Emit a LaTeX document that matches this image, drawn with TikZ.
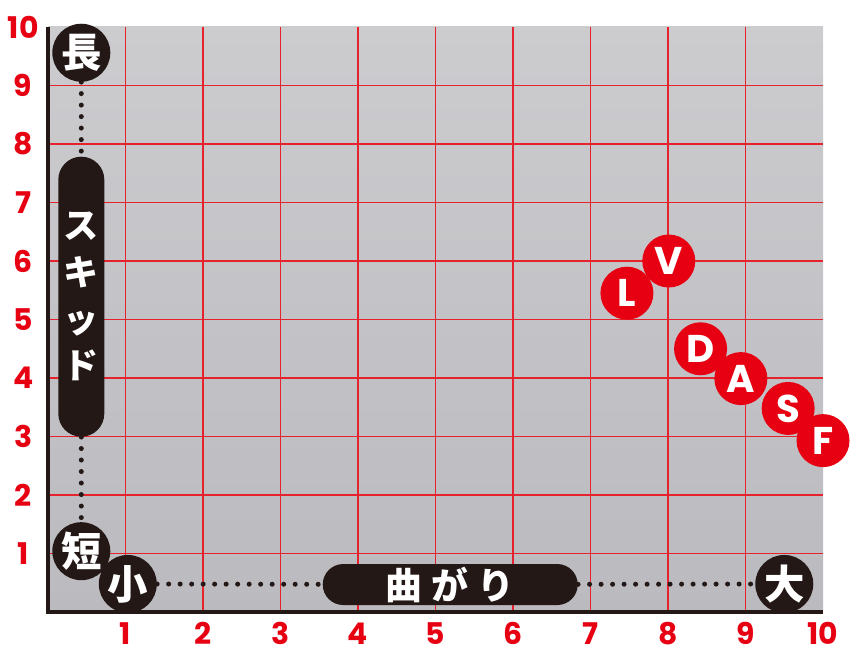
\documentclass[tikz,border=0pt]{standalone}
\usepackage{fontspec}
\newfontfamily\numfont{Poppins}
\newfontfamily\jpfont{Noto Sans CJK JP}
\definecolor{gridred}{RGB}{230,35,45}
\definecolor{markred}{RGB}{230,0,18}
\definecolor{inkblack}{RGB}{35,24,21}
\definecolor{metaltop}{RGB}{204,204,207}
\definecolor{metalbot}{RGB}{186,186,191}
\tikzset{
	gridline/.style={gridred, line width=0.75pt},
	axisnum/.style={text=markred, inner sep=0pt, font=\numfont\bfseries\fontsize{17}{17}\selectfont},
	endcirc/.style={circle, fill=inkblack, text=white, minimum size=1.16cm, inner sep=0pt, font=\jpfont\bfseries\fontsize{23}{23}\selectfont},
	pill/.style={fill=inkblack, text=white, inner sep=0pt, align=center},
	markcirc/.style={circle, fill=markred, text=white, minimum size=1.06cm, inner sep=0pt, font=\numfont\bfseries\fontsize{22}{22}\selectfont},
	dotline/.style={inkblack, line width=0.1cm, line cap=round, dash pattern=on 0pt off 0.23cm},
}
\begin{document}
\begin{tikzpicture}[x=1.55cm, y=1.17cm]
	\useasboundingbox (-0.619,-0.632) rectangle (10.348,10.4615);
	\shade[top color=metaltop, bottom color=metalbot] (0,0) rectangle (10,10);
	\foreach \i in {1,...,9} {
		\draw[gridline] (\i,0) -- (\i,10);
		\draw[gridline] (0,\i) -- (10,\i);
	}
	\draw[inkblack, line width=0.066cm] (0,10) -- (0,0) -- (10,0);
	\foreach \i in {1,...,10} {
		\node[axisnum] (x\i) at (\i,-0.37) {\i};
		\node[axisnum] (y\i) at (-0.32,\i) {\i};
	}

	\node[endcirc] (long) at (0.43,9.56) {長};
	\node[pill, minimum width=0.92cm, minimum height=5.6cm, rounded corners=0.46cm,
		font=\jpfont\bfseries\fontsize{20}{26.5}\selectfont] (skid) at (0.43,5.39) {ス\\キ\\ッ\\ド};
	\node[endcirc] (short) at (0.43,1.04) {短};
	\node[endcirc] (small) at (1.03,0.48) {小};
	\node[pill, minimum width=5.1cm, minimum height=0.82cm, rounded corners=0.41cm,
		font=\jpfont\bfseries\fontsize{21}{21}\selectfont] (curve) at (5.19,0.47) {曲\hspace{0.18cm}が\hspace{0.18cm}り};
	\node[endcirc] (large) at (9.5,0.48) {大};
	\draw[dotline] (long) -- (skid);
	\draw[dotline] (skid) -- (short);
	\draw[dotline] (small) -- (curve);
	\draw[dotline] (curve) -- (large);

	\node[markcirc] (L) at (7.47,5.45) {L};
	\node[markcirc] (V) at (8.01,6) {V};
	\node[markcirc] (D) at (8.42,4.5) {D};
	\node[markcirc] (A) at (8.94,3.99) {A};
	\node[markcirc] (S) at (9.55,3.48) {S};
	\node[markcirc] (F) at (10,2.93) {F};
\end{tikzpicture}
\end{document}
